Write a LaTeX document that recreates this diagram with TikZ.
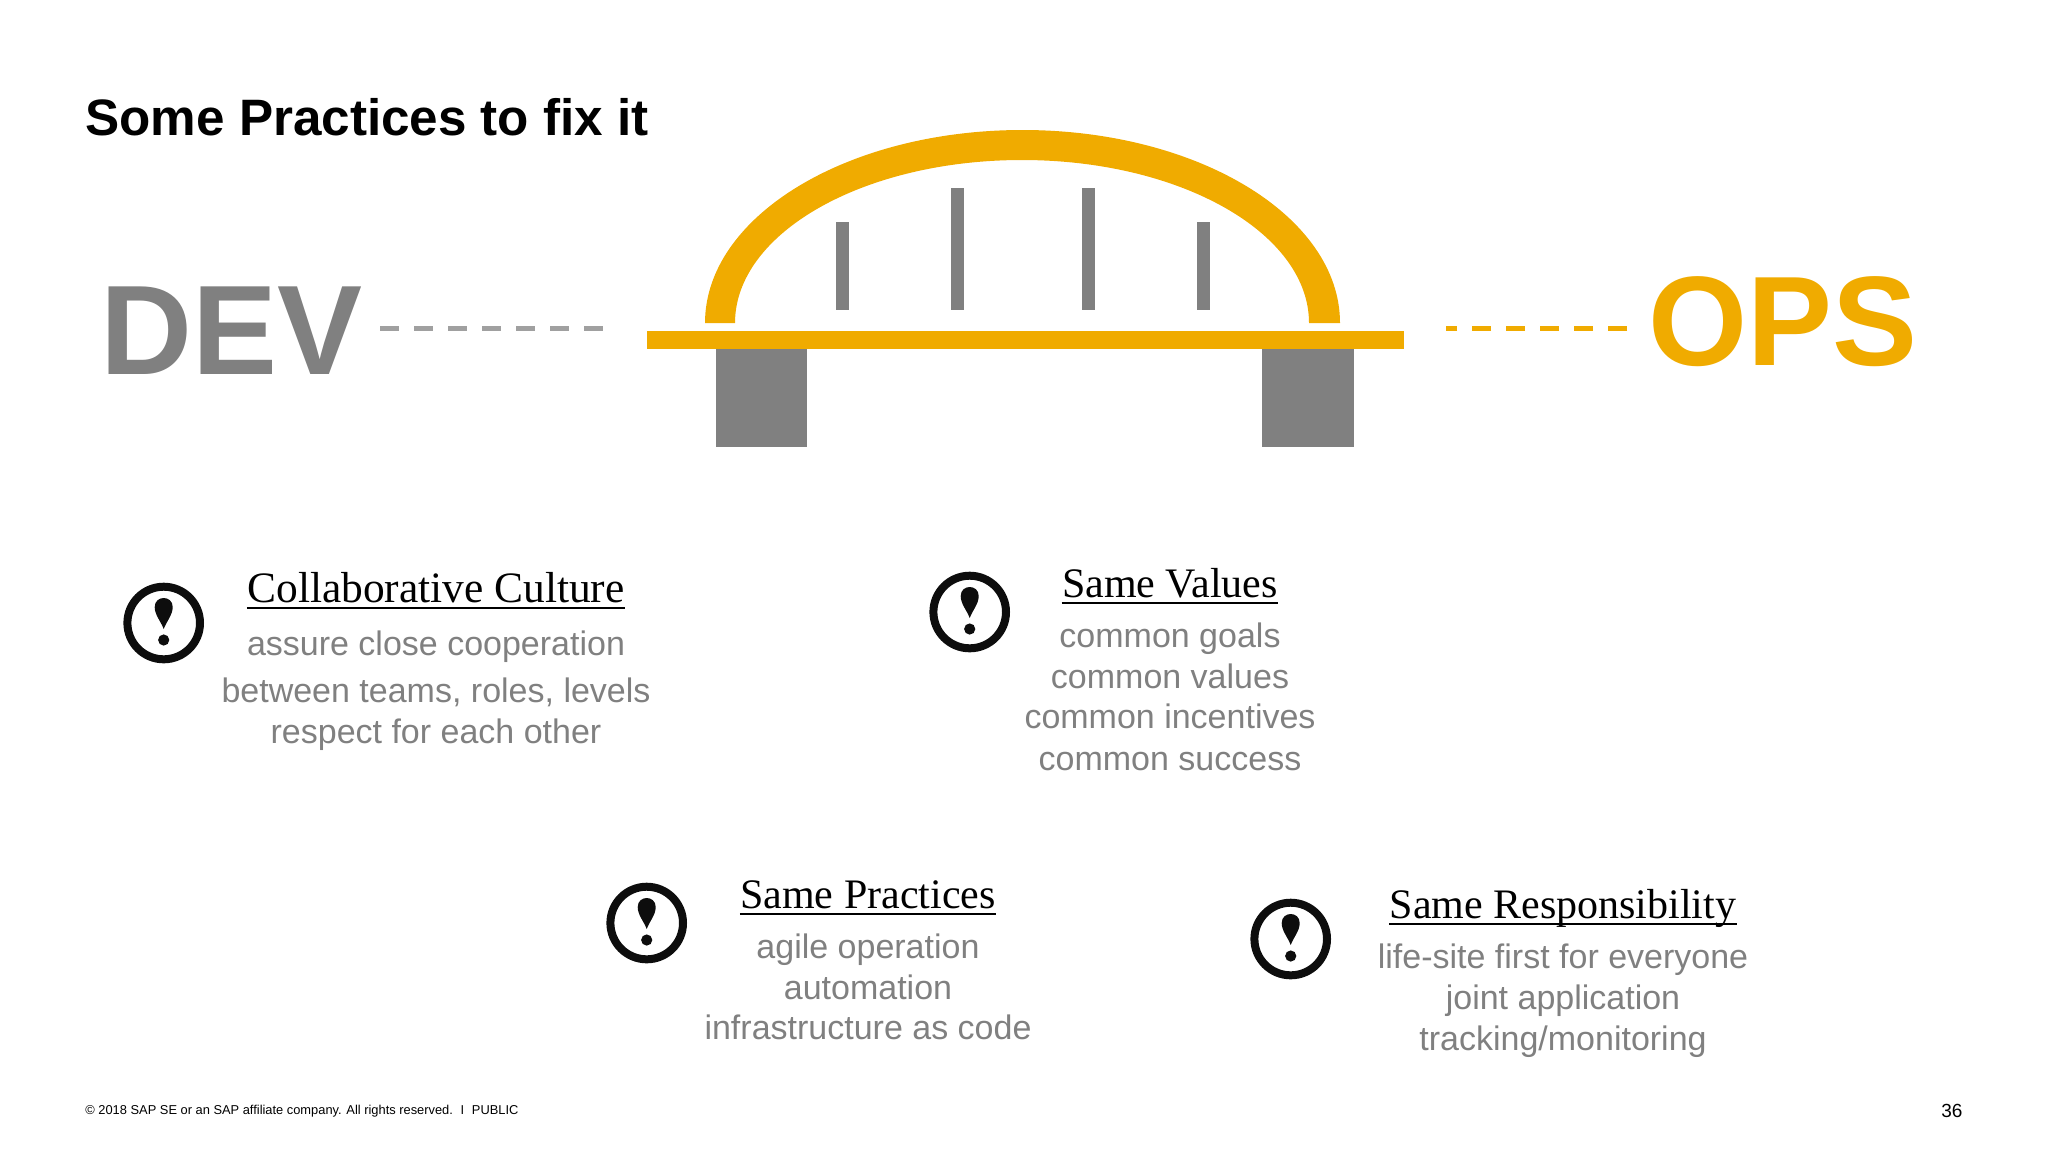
\documentclass[tikz,border=0pt]{standalone}
\usepackage{fontspec}
\setmainfont{Liberation Sans}
\newfontfamily\headfont{Liberation Serif}
\definecolor{gold}{HTML}{F0AB00}
\definecolor{slate}{HTML}{808080}
\definecolor{ash}{HTML}{A0A0A0}
\tikzset{
  head/.style={anchor=base,inner sep=0pt,font=\headfont\fontsize{21}{24}\selectfont},
  body/.style={anchor=base,inner sep=0pt,text=slate,font=\fontsize{17}{20}\selectfont},
  bigword/.style={anchor=base west,inner sep=0pt,font=\bfseries\fontsize{63.7}{70}\selectfont},
  foot/.style={anchor=base west,inner sep=0pt,font=\fontsize{6.43}{8}\selectfont},
  headrule/.style={line width=1pt},
  hanger/.style={fill=slate},
  dashrule/.style={line width=2.4pt,dash pattern=on 9.7pt off 7.3pt}
}
\begin{document}
\begin{tikzpicture}[x=0.5pt,y=-0.5pt]
    \useasboundingbox (0,0) rectangle (2048,1152);
    \node[anchor=base west,inner sep=0pt,font=\bfseries\fontsize{25.6}{28}\selectfont] (title) at (85,135) {Some Practices to fix it};
    \node[bigword,text=slate] (dev) at (100,374) {DEV};
    \node[bigword,text=gold] (ops) at (1648,365) {OPS};
    \coordinate (devstart) at (380,328.7);
    \coordinate (devend) at (605,328.7);
    \coordinate (opsstart) at (1446,328.3);
    \coordinate (opsend) at (1627,328.3);
    \draw[dashrule,color=ash] (devstart) -- (devend);
    \draw[dashrule,color=gold] (opsend) -- (opsstart);
    \fill[gold] (705,323) arc[start angle=180,end angle=360,x radius=317.5,y radius=193]
      -- (1309,323) arc[start angle=360,end angle=180,x radius=287,y radius=163] -- cycle;
    \fill[gold] (647,331) rectangle (1404,349);
    \fill[slate] (716,349) rectangle (807,447);
    \fill[slate] (1262,349) rectangle (1354,447);
    \foreach \x/\y in {836/222,951/188,1082/188,1197/222}{
      \fill[hanger] (\x,\y) rectangle (\x+13,310);
    }
    \foreach \x/\y in {163.7/623,969.7/612,646.7/923,1290.7/939}{
      \draw[line width=4pt,color=black!95] (\x,\y) circle (36.3);
      \fill[black!95] (\x-9,\y-16) .. controls (\x-9,\y-28) and (\x+9,\y-28) .. (\x+9,\y-16)
        .. controls (\x+9,\y-8) and (\x+3,\y-2) .. (\x,\y+6)
        .. controls (\x-3,\y-2) and (\x-9,\y-8) .. (\x-9,\y-16);
      \fill[black!95] (\x,\y+17) circle (5.6);
    }
    \node[head,font=\headfont\fontsize{21.7}{24}\selectfont] (culture) at (436,602) {Collaborative Culture};
    \draw[headrule] ([yshift=-3pt]culture.base west) -- ([yshift=-3pt]culture.base east);
    \node[body] (culture1) at (436,655) {assure close cooperation};
    \node[body] (culture2) at (436,702) {between teams, roles, levels};
    \node[body] (culture3) at (436,743) {respect for each other};
    \node[head] (values) at (1170,597) {Same Values};
    \draw[headrule] ([yshift=-3pt]values.base west) -- ([yshift=-3pt]values.base east);
    \node[body] (values1) at (1170,647) {common goals};
    \node[body] (values2) at (1170,688) {common values};
    \node[body] (values3) at (1170,728) {common incentives};
    \node[body] (values4) at (1170,770) {common success};
    \node[head] (practices) at (868,908) {Same Practices};
    \draw[headrule] ([yshift=-3pt]practices.base west) -- ([yshift=-3pt]practices.base east);
    \node[body] (practices1) at (868,958) {agile operation};
    \node[body] (practices2) at (868,999) {automation};
    \node[body] (practices3) at (868,1039) {infrastructure as code};
    \node[head] (resp) at (1563,918) {Same Responsibility};
    \draw[headrule] ([yshift=-3pt]resp.base west) -- ([yshift=-3pt]resp.base east);
    \node[body] (resp1) at (1563,968) {life-site first for everyone};
    \node[body] (resp2) at (1563,1009) {joint application};
    \node[body] (resp3) at (1563,1050) {tracking/monitoring};
    \node[foot] (copyright) at (85,1114) {© 2018 SAP SE or an SAP affiliate company. All rights reserved.\hspace{0.6em}I\hspace{0.6em}PUBLIC};
    \node[anchor=base west,inner sep=0pt,font=\fontsize{9.5}{11}\selectfont] (pageno) at (1941,1117) {36};
  \end{tikzpicture}
\end{document}
